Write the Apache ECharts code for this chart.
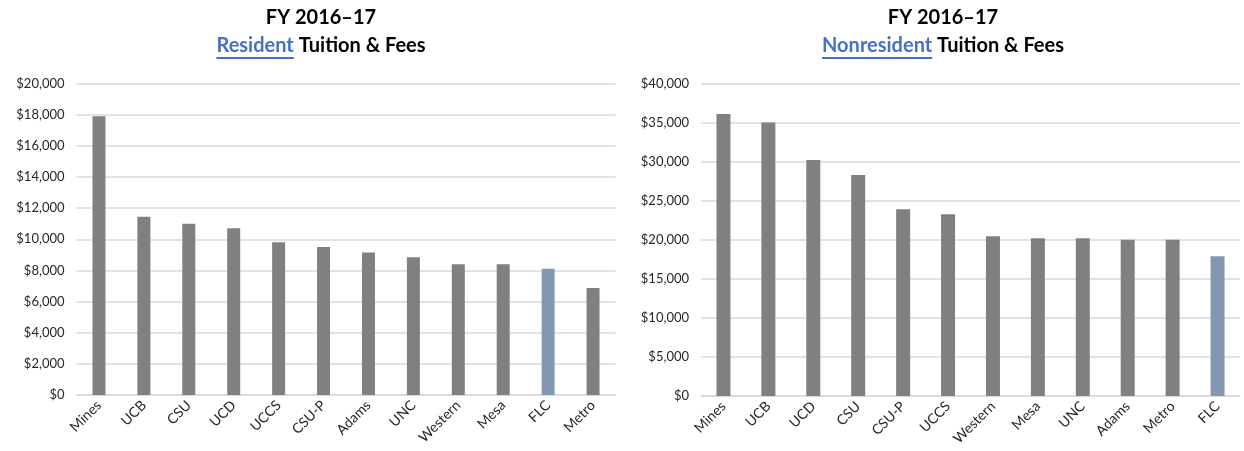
<!DOCTYPE html>
<html>
<head>
<meta charset="utf-8">
<script src="https://cdn.jsdelivr.net/npm/echarts@6/dist/echarts.min.js"></script>
<style>
html,body{margin:0;padding:0;background:#fff;}
#c{width:1244px;height:451px;}
</style>
</head>
<body>
<div id="c"></div>
<script>
const resCategories = ['Mines','UCB','CSU','UCD','UCCS','CSU-P','Adams','UNC','Western','Mesa','FLC','Metro'];
const resValues = [17900, 11450, 11000, 10700, 9800, 9500, 9150, 8850, 8400, 8400, 8100, 6870];
const nonCategories = ['Mines','UCB','UCD','CSU','CSU-P','UCCS','Western','Mesa','UNC','Adams','Metro','FLC'];
const nonValues = [36100, 35000, 30200, 28300, 23900, 23250, 20450, 20200, 20200, 20000, 20000, 17900];
const highlight = 'FLC';
const titleLine1 = 'FY 2016\u201317';
const resKey = 'Resident';
const nonKey = 'Nonresident';
const titleRest = ' Tuition & Fees';

const FONT = 'Lato';
const TSIZE = 20;
const GRAY = '#808080', BLUE = '#8497B0', GRID = '#D9D9D9', TXT = '#262626';

function items(cats, vals){
  return vals.map((v,i)=>({value:v, itemStyle:{color: cats[i]===highlight ? BLUE : GRAY}}));
}
function money(v){ return '$' + v.toLocaleString('en-US'); }

const chart = echarts.init(document.getElementById('c'), null, {renderer:'canvas'});

const ctx = document.createElement('canvas').getContext('2d');
ctx.font = 'bold ' + TSIZE + 'px ' + FONT;
function underline(cx, key){
  const W = ctx.measureText(key + titleRest).width;
  const w = ctx.measureText(key).width;
  const x0 = cx - W/2;
  return {type:'rect', shape:{x:x0, y:57, width:w, height:2}, style:{fill:'#4472C4'}, silent:true};
}

function title(cx, key){
  const base = {fontFamily:FONT, fontWeight:'bold', fontSize:TSIZE, lineHeight:28};
  return {
    text: '{t|' + titleLine1 + '}\n{a|' + key + '}{b|' + titleRest + '}',
    left: cx, top: 4, textAlign: 'center', padding:0,
    textStyle: {
      rich: {
        t:Object.assign({color:'#000'}, base),
        a:Object.assign({color:'#4472C4'}, base),
        b:Object.assign({color:'#000'}, base)
      }
    }
  };
}

function xAxis(idx, cats){
  return {
    type:'category', gridIndex:idx, data:cats,
    axisLine:{show:true, lineStyle:{color:GRID, width:1.5}},
    axisTick:{show:false},
    axisLabel:{rotate:45, interval:0, fontFamily:FONT, fontSize:14, color:TXT, margin:8}
  };
}
function yAxis(idx, max, step){
  return {
    type:'value', gridIndex:idx, min:0, max:max, interval:step,
    axisLine:{show:false}, axisTick:{show:false},
    splitLine:{lineStyle:{color:GRID, width:1.5}},
    axisLabel:{formatter:money, fontFamily:FONT, fontSize:13, color:TXT, margin:12}
  };
}

chart.setOption({
  animation:false,
  title:[ title(321, resKey), title(943, nonKey) ],
  grid:[
    {left:76.5, right:628.5, top:83.5, bottom:56},
    {left:701, right:4, top:83.5, bottom:55}
  ],
  xAxis:[ xAxis(0, resCategories), xAxis(1, nonCategories) ],
  yAxis:[ yAxis(0, 20000, 2000), yAxis(1, 40000, 5000) ],
  series:[
    {type:'bar', xAxisIndex:0, yAxisIndex:0, barWidth:13, data:items(resCategories,resValues)},
    {type:'bar', xAxisIndex:1, yAxisIndex:1, barWidth:14, data:items(nonCategories,nonValues)}
  ],
  graphic:[ underline(321, resKey), underline(943, nonKey) ]
});
</script>
</body>
</html>
